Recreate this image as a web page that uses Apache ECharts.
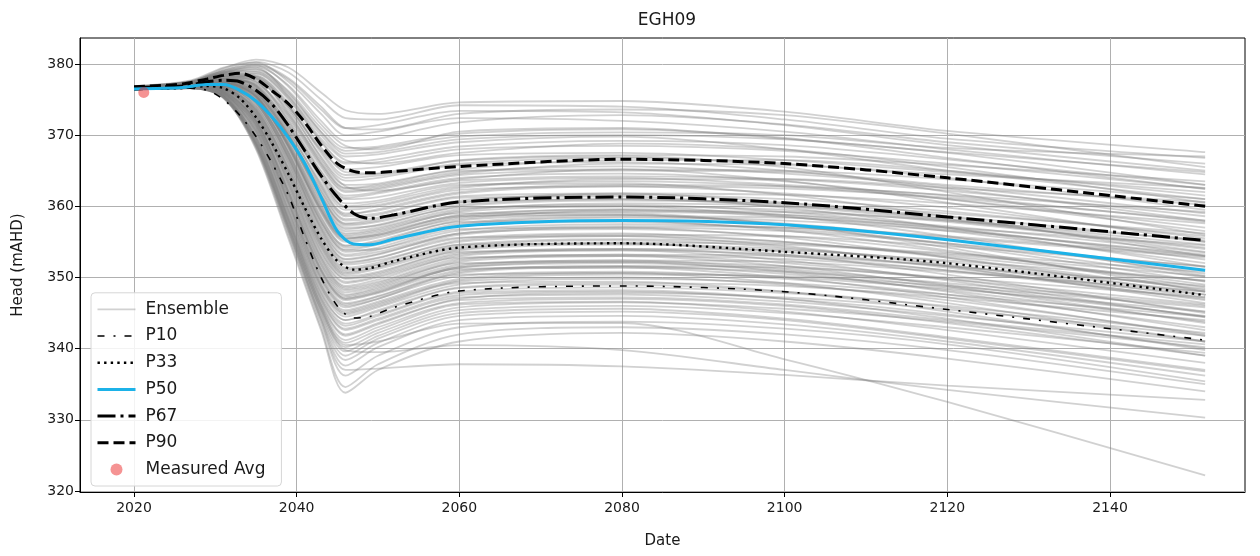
<!DOCTYPE html>
<html>
<head>
<meta charset="utf-8">
<script src="https://cdn.jsdelivr.net/npm/echarts@6/dist/echarts.min.js"></script>
<style>
html,body{margin:0;padding:0;background:#fff;}
#chart{width:1260px;height:556px;}
</style>
</head>
<body>
<div id="chart"></div>
<script>
// ---------------- DATA ----------------
const TITLE = 'EGH09';
const X_TICKS = [2020, 2040, 2060, 2080, 2100, 2120, 2140];
const Y_TICKS = [320, 330, 340, 350, 360, 370, 380];

// years for percentile curves
const P_YEARS = [2020, 2026, 2029, 2031, 2033, 2035, 2037, 2039, 2041, 2043, 2045, 2047, 2049, 2052, 2060, 2080, 2100, 2120, 2151.7];
const P10 = [376.4, 376.6, 376.3, 375.0, 372.8, 369.8, 366.0, 361.5, 355.5, 350.0, 346.0, 344.3, 344.5, 345.8, 348.1, 348.8, 348.0, 345.5, 341.2];
const P33 = [376.5, 376.6, 376.9, 376.6, 375.2, 372.5, 368.8, 364.5, 359.8, 355.5, 352.3, 351.1, 351.3, 352.3, 354.2, 354.8, 353.6, 352.0, 347.5];
const P50 = [376.5, 376.7, 377.1, 377.1, 376.3, 374.8, 372.5, 369.6, 366.0, 361.3, 356.5, 354.7, 354.6, 355.4, 357.2, 358.0, 357.4, 355.3, 351.0];
const P67 = [376.7, 376.9, 377.5, 377.7, 377.5, 376.3, 374.3, 371.3, 367.8, 364.3, 361.3, 359.0, 358.3, 358.8, 360.6, 361.3, 360.5, 358.5, 355.2];
const P90 = [376.8, 377.2, 377.9, 378.4, 378.7, 377.9, 376.2, 374.4, 371.8, 368.6, 366.0, 364.9, 364.7, 364.9, 365.6, 366.6, 366.0, 364.0, 360.0];

// measured average
const MEASURED = [[2021.2, 376.0]];

// years for ensemble members
const E_YEARS = [2020, 2027, 2031, 2035, 2039, 2043, 2046, 2050, 2060, 2080, 2100, 2120, 2151.7];
const ENSEMBLE = [
  [376.8, 377.6, 379.4, 380.6, 379.5, 376.0, 373.5, 373.0, 374.6, 374.8, 373.3, 370.6, 367.6],
  [376.7, 377.5, 379.2, 380.3, 378.8, 375.0, 372.4, 372.2, 374.2, 374.0, 372.2, 369.5, 366.8],
  [376.6, 377.4, 379.0, 380.0, 378.0, 374.0, 371.0, 370.8, 373.0, 373.6, 372.8, 370.2, 365.5],
  [376.9, 377.7, 379.5, 380.2, 377.5, 373.0, 370.0, 370.5, 372.4, 372.0, 370.5, 368.0, 364.5],
  [376.5, 377.3, 378.8, 379.6, 377.0, 372.0, 369.2, 369.5, 371.8, 372.8, 371.5, 369.0, 366.0],
  [376.7, 377.5, 379.1, 379.8, 376.8, 371.5, 368.5, 368.0, 370.5, 371.0, 369.5, 367.5, 363.0],
  [376.6, 377.2, 378.6, 379.3, 376.0, 370.5, 367.8, 368.2, 369.8, 370.4, 370.0, 368.2, 367.0],
  [376.8, 377.6, 379.0, 379.5, 375.5, 370.0, 367.0, 367.3, 369.0, 369.8, 368.0, 365.0, 361.0],
  [376.6, 377.3, 378.5, 378.6, 375.0, 369.0, 366.0, 366.2, 368.0, 368.5, 367.8, 366.0, 362.5],
  [376.7, 377.4, 378.7, 378.9, 375.4, 369.5, 366.5, 366.0, 367.5, 368.8, 368.0, 365.5, 360.5],
  [376.5, 377.1, 378.2, 378.0, 374.0, 368.0, 365.2, 365.5, 367.2, 367.5, 366.5, 364.8, 362.0],
  [376.6, 377.3, 378.3, 378.3, 374.5, 368.3, 364.8, 364.6, 366.5, 367.2, 367.0, 365.8, 363.5],
  [376.8, 377.5, 378.6, 378.4, 374.2, 367.5, 364.0, 364.3, 366.0, 366.8, 366.0, 364.0, 359.5],
  [376.5, 377.0, 378.0, 377.8, 373.5, 367.0, 363.6, 364.0, 365.8, 366.2, 365.0, 362.5, 358.0],
  [376.7, 377.2, 378.4, 378.0, 373.0, 366.5, 363.0, 363.2, 365.2, 366.5, 366.5, 365.0, 361.5],
  [376.6, 377.4, 378.1, 377.5, 372.8, 366.0, 362.5, 362.8, 364.8, 365.6, 364.6, 362.8, 359.0],
  [376.4, 377.0, 377.8, 377.2, 372.3, 365.5, 362.0, 362.4, 364.4, 365.0, 364.8, 363.0, 360.2],
  [376.6, 377.3, 378.2, 377.6, 372.0, 365.0, 361.5, 362.0, 364.0, 364.6, 363.5, 361.0, 356.5],
  [376.8, 377.5, 378.5, 378.2, 373.8, 366.8, 362.8, 362.2, 363.6, 364.2, 363.8, 362.2, 358.6],
  [376.5, 377.1, 377.9, 377.0, 371.5, 364.5, 361.0, 361.3, 363.3, 364.0, 363.0, 361.5, 357.8],
  [376.6, 377.2, 377.8, 376.8, 371.0, 364.0, 360.0, 360.5, 362.8, 363.5, 362.8, 361.0, 357.0],
  [376.5, 377.0, 377.6, 376.5, 370.6, 363.3, 359.5, 360.0, 362.3, 362.8, 361.8, 359.8, 355.5],
  [376.7, 377.3, 377.9, 376.9, 370.8, 363.0, 359.0, 359.4, 361.8, 362.8, 362.5, 361.2, 358.0],
  [376.4, 376.9, 377.4, 376.0, 370.0, 362.5, 358.6, 359.0, 361.4, 361.8, 360.5, 358.2, 353.6],
  [376.6, 377.1, 377.6, 376.3, 370.2, 362.0, 358.0, 358.4, 360.8, 361.6, 361.0, 359.3, 355.8],
  [376.5, 377.0, 377.3, 375.8, 369.5, 361.5, 357.5, 358.0, 360.5, 361.0, 360.0, 358.0, 354.2],
  [376.7, 377.2, 377.5, 376.0, 369.8, 361.0, 357.0, 357.3, 360.0, 360.8, 360.4, 359.0, 356.2],
  [376.5, 377.0, 377.2, 375.5, 369.0, 360.5, 356.5, 357.0, 359.6, 360.2, 359.2, 357.0, 352.5],
  [376.6, 377.1, 377.4, 375.6, 368.8, 360.0, 356.0, 356.6, 359.2, 360.0, 359.5, 357.8, 354.0],
  [376.4, 376.9, 377.0, 375.2, 368.5, 359.5, 355.5, 356.0, 358.8, 359.5, 358.5, 356.5, 352.0],
  [376.6, 377.1, 377.3, 375.4, 368.2, 359.0, 355.0, 355.6, 358.4, 359.2, 358.8, 357.2, 353.5],
  [376.5, 376.9, 376.9, 374.8, 367.8, 358.5, 354.5, 355.0, 358.0, 358.8, 357.6, 355.4, 350.5],
  [376.7, 377.2, 377.4, 375.3, 367.5, 358.0, 354.2, 354.8, 357.6, 358.6, 358.4, 357.0, 354.5],
  [376.5, 377.0, 377.0, 374.6, 367.0, 357.5, 353.6, 354.2, 357.2, 357.8, 356.8, 354.8, 350.0],
  [376.6, 377.0, 377.2, 374.9, 367.2, 357.8, 353.8, 354.0, 356.6, 357.5, 357.0, 355.6, 352.8],
  [376.4, 376.8, 376.8, 374.3, 366.5, 357.0, 353.0, 353.6, 356.2, 356.8, 355.8, 353.6, 349.0],
  [376.6, 377.1, 377.1, 374.6, 366.8, 356.8, 352.6, 353.3, 356.0, 357.0, 356.5, 354.8, 351.5],
  [376.5, 376.9, 376.9, 374.0, 366.0, 356.3, 352.2, 352.8, 355.5, 356.2, 355.0, 352.8, 348.2],
  [376.5, 376.9, 376.7, 373.6, 365.5, 355.8, 351.8, 352.4, 355.0, 355.8, 355.0, 353.0, 349.5],
  [376.6, 377.0, 376.9, 373.8, 365.2, 355.2, 351.2, 351.8, 354.6, 355.4, 354.8, 353.4, 350.8],
  [376.4, 376.8, 376.5, 373.2, 364.8, 354.8, 350.8, 351.5, 354.2, 354.8, 353.6, 351.4, 346.8],
  [376.5, 376.9, 376.6, 373.0, 364.2, 354.2, 350.2, 350.8, 353.8, 354.6, 354.0, 352.2, 348.4],
  [376.6, 377.0, 376.8, 373.3, 364.0, 353.6, 349.8, 350.4, 353.4, 354.0, 353.0, 351.0, 347.0],
  [376.4, 376.8, 376.3, 372.6, 363.5, 353.0, 349.2, 350.0, 353.0, 353.8, 353.2, 351.6, 348.0],
  [376.5, 376.9, 376.5, 372.8, 363.2, 352.6, 348.6, 349.4, 352.6, 353.2, 352.0, 349.8, 345.2],
  [376.6, 377.0, 376.6, 372.4, 362.8, 352.0, 348.2, 349.0, 352.2, 353.0, 352.6, 351.0, 347.6],
  [376.4, 376.7, 376.1, 372.0, 362.2, 351.5, 347.6, 348.6, 351.8, 352.4, 351.2, 349.0, 344.5],
  [376.5, 376.8, 376.4, 372.2, 362.0, 351.0, 347.2, 348.2, 351.4, 352.2, 351.6, 349.8, 346.2],
  [376.6, 376.9, 376.2, 371.8, 361.5, 350.5, 346.8, 347.8, 351.0, 351.6, 350.5, 348.2, 343.8],
  [376.4, 376.7, 376.0, 371.5, 361.0, 350.0, 346.2, 347.3, 350.6, 351.4, 350.8, 349.2, 346.0],
  [376.5, 376.8, 376.3, 371.6, 360.8, 349.6, 345.8, 347.0, 350.2, 350.8, 349.8, 347.6, 343.0],
  [376.6, 376.9, 376.1, 371.2, 360.5, 349.2, 345.4, 346.6, 349.8, 350.6, 350.0, 348.4, 345.2],
  [376.4, 376.7, 375.9, 371.0, 360.2, 348.8, 345.0, 346.2, 349.4, 350.0, 349.0, 346.8, 342.0],
  [376.5, 376.8, 376.0, 370.8, 359.8, 348.4, 344.5, 345.8, 349.0, 349.8, 349.2, 347.6, 344.5],
  [376.4, 376.7, 375.8, 370.5, 359.4, 348.0, 344.0, 345.2, 348.5, 349.0, 348.0, 345.8, 341.0],
  [376.5, 376.8, 375.9, 370.2, 359.0, 347.5, 343.5, 344.8, 348.0, 348.6, 347.8, 346.0, 342.2],
  [376.6, 376.9, 375.7, 369.8, 358.5, 347.0, 342.8, 344.2, 347.5, 348.0, 347.0, 344.8, 340.0],
  [376.4, 376.6, 375.5, 369.5, 358.2, 346.5, 342.0, 343.6, 347.0, 347.8, 347.2, 345.5, 341.8],
  [376.5, 376.7, 375.6, 369.2, 357.8, 346.0, 341.2, 343.0, 346.4, 347.0, 346.0, 343.6, 339.0],
  [376.4, 376.6, 375.4, 369.0, 357.4, 345.4, 340.2, 342.2, 345.8, 346.5, 345.6, 343.8, 340.2],
  [376.5, 376.7, 375.5, 368.8, 357.0, 344.8, 339.0, 341.4, 345.0, 345.6, 344.2, 341.6, 337.0],
  [376.4, 376.6, 375.3, 368.6, 356.6, 344.2, 337.6, 340.2, 344.0, 344.6, 343.4, 341.0, 336.2],
  [376.5, 376.7, 375.4, 368.4, 356.2, 343.6, 336.2, 339.0, 343.0, 343.8, 342.8, 340.6, 335.4],
  [376.4, 376.6, 375.2, 368.2, 355.8, 343.0, 334.6, 337.8, 342.0, 343.0, 342.0, 339.8, 335.0],
  [376.5, 376.6, 375.3, 368.0, 355.4, 342.6, 333.8, 337.0, 341.0, 342.2, 341.0, 338.6, 334.0],
  [376.5, 376.8, 375.6, 369.6, 358.0, 346.0, 340.5, 341.0, 343.5, 343.6, 338.5, 332.5, 322.2],
  [376.4, 376.6, 375.2, 368.5, 356.5, 344.0, 337.0, 337.2, 337.8, 337.5, 336.3, 334.8, 332.8],
  [376.5, 376.7, 375.4, 369.0, 357.2, 345.5, 339.8, 339.5, 340.5, 339.8, 337.0, 334.2, 330.3],
  [376.6, 377.3, 378.4, 378.2, 374.0, 367.8, 364.4, 364.6, 366.4, 367.0, 365.5, 362.0, 356.0],
  [376.5, 377.2, 378.0, 377.4, 372.6, 365.8, 362.2, 362.6, 364.6, 366.0, 365.8, 364.5, 362.6],
  [376.7, 377.4, 378.3, 377.9, 373.2, 366.2, 362.6, 363.0, 365.0, 365.2, 363.6, 360.5, 355.0],
  [376.6, 377.2, 377.9, 377.1, 371.8, 364.8, 361.2, 361.8, 363.8, 365.2, 365.0, 363.8, 361.0],
  [376.5, 377.1, 377.7, 376.6, 371.2, 364.2, 360.4, 360.8, 363.0, 363.2, 361.6, 358.6, 353.0],
  [376.6, 377.2, 377.7, 376.7, 370.4, 362.8, 358.8, 359.6, 362.0, 363.0, 362.8, 361.6, 359.2],
  [376.5, 377.0, 377.5, 376.2, 370.0, 362.2, 358.2, 358.8, 361.2, 361.4, 359.8, 357.0, 351.5],
  [376.7, 377.2, 377.6, 376.4, 369.9, 361.6, 357.6, 358.2, 360.6, 361.8, 361.6, 360.4, 357.6],
  [376.5, 377.0, 377.4, 375.9, 369.3, 360.8, 356.8, 357.4, 359.8, 360.0, 358.6, 355.8, 350.2],
  [376.6, 377.1, 377.3, 375.7, 368.9, 360.2, 356.2, 356.8, 359.4, 360.4, 360.0, 358.6, 355.0],
  [376.4, 376.9, 377.1, 375.3, 368.4, 359.4, 355.4, 356.2, 358.6, 358.8, 357.4, 354.6, 349.4],
  [376.6, 377.1, 377.3, 375.5, 368.4, 359.2, 355.2, 355.8, 358.2, 359.4, 359.2, 358.0, 355.2],
  [376.5, 376.9, 377.0, 374.9, 367.6, 358.4, 354.4, 355.2, 357.8, 358.0, 356.6, 353.8, 348.6],
  [376.6, 377.0, 377.1, 375.0, 367.4, 357.9, 353.9, 354.6, 357.4, 358.4, 358.0, 356.6, 353.2],
  [376.4, 376.8, 376.9, 374.5, 366.9, 357.2, 353.2, 353.9, 356.8, 357.0, 355.6, 352.8, 347.6],
  [376.5, 377.0, 377.0, 374.7, 366.6, 356.6, 352.5, 353.2, 356.2, 357.2, 357.0, 355.8, 353.0],
  [376.6, 377.0, 376.9, 374.2, 366.2, 356.0, 352.0, 352.7, 355.6, 355.8, 354.4, 351.6, 346.4],
  [376.5, 376.9, 376.8, 373.9, 365.8, 355.5, 351.4, 352.1, 355.2, 356.0, 355.8, 354.4, 351.6],
  [376.4, 376.8, 376.6, 373.5, 365.3, 355.0, 351.0, 351.8, 354.6, 354.8, 353.2, 350.4, 345.0],
  [376.6, 377.0, 376.7, 373.4, 364.6, 354.4, 350.4, 351.2, 354.0, 354.9, 354.6, 353.2, 350.2],
  [376.5, 376.9, 376.6, 373.1, 364.4, 353.9, 349.9, 350.6, 353.6, 353.8, 352.4, 349.6, 344.4],
  [376.4, 376.8, 376.4, 372.7, 363.8, 353.4, 349.4, 350.2, 353.2, 354.0, 353.8, 352.4, 349.6],
  [376.6, 376.9, 376.5, 372.9, 363.4, 352.8, 348.8, 349.7, 352.8, 353.0, 351.6, 348.8, 343.6],
  [376.5, 376.8, 376.4, 372.5, 362.9, 352.3, 348.4, 349.2, 352.4, 353.2, 353.0, 351.6, 348.8],
  [376.4, 376.8, 376.2, 372.1, 362.4, 351.8, 347.9, 348.8, 352.0, 352.2, 350.8, 348.0, 342.6],
  [376.6, 376.9, 376.3, 372.0, 362.0, 351.2, 347.4, 348.4, 351.6, 352.4, 352.2, 350.8, 348.0],
  [376.5, 376.8, 376.1, 371.7, 361.6, 350.8, 347.0, 347.9, 351.2, 351.4, 350.0, 347.2, 341.8],
  [376.4, 376.7, 376.0, 371.4, 361.2, 350.2, 346.4, 347.4, 350.8, 351.6, 351.4, 350.0, 347.2],
  [376.5, 376.8, 376.0, 371.3, 360.6, 349.8, 346.0, 347.0, 350.4, 350.6, 349.2, 346.4, 341.0],
  [376.6, 376.8, 375.9, 370.9, 360.3, 349.0, 345.2, 346.4, 349.6, 350.4, 350.2, 348.8, 345.8],
  [376.4, 376.7, 375.8, 370.6, 359.6, 348.6, 344.8, 346.0, 349.2, 349.4, 348.0, 345.2, 339.8],
  [376.5, 376.7, 375.8, 370.4, 359.2, 347.8, 344.0, 345.4, 348.6, 349.2, 348.8, 347.2, 344.0],
  [376.4, 376.6, 375.6, 370.0, 358.7, 347.2, 343.2, 344.6, 347.8, 348.2, 347.0, 344.2, 339.0],
  [376.5, 376.7, 375.6, 369.7, 358.3, 346.8, 342.6, 344.0, 347.2, 347.6, 346.6, 344.6, 341.0],
  [376.4, 376.6, 375.5, 369.4, 357.9, 346.2, 341.8, 343.4, 346.8, 347.2, 346.2, 344.0, 340.6],
  [376.5, 376.7, 375.4, 369.1, 357.5, 345.6, 340.8, 342.6, 346.2, 346.6, 345.2, 342.6, 338.0],
  [376.4, 376.6, 375.3, 368.8, 357.1, 345.0, 339.6, 341.8, 345.4, 346.0, 345.0, 343.0, 339.4],
  [376.5, 376.6, 375.4, 368.6, 356.8, 344.4, 338.4, 340.8, 344.6, 345.2, 344.0, 341.4, 336.8],
  [376.6, 377.4, 378.8, 379.2, 376.2, 371.0, 368.2, 368.4, 370.2, 370.8, 369.6, 366.8, 362.4],
  [376.7, 377.5, 378.9, 379.0, 375.8, 370.4, 367.4, 367.6, 369.4, 370.0, 369.4, 367.6, 364.8],
  [376.6, 377.3, 378.6, 378.7, 375.2, 369.2, 366.2, 366.6, 368.4, 369.2, 368.6, 366.6, 363.0],
  [376.8, 377.4, 378.8, 379.8, 377.8, 373.6, 371.0, 371.4, 373.4, 373.2, 371.4, 368.6, 365.0],
  [376.6, 377.2, 377.8, 376.9, 371.4, 363.8, 359.8, 360.2, 362.6, 363.8, 363.8, 362.6, 360.6],
  [376.5, 377.0, 377.2, 375.4, 368.6, 359.8, 355.8, 356.4, 359.0, 359.0, 357.4, 354.2, 348.0],
  [376.4, 376.8, 376.6, 373.6, 365.0, 354.6, 350.6, 351.4, 354.4, 355.2, 354.2, 351.8, 347.2],
  [376.5, 376.8, 376.2, 372.0, 361.8, 351.0, 347.0, 348.0, 351.4, 352.0, 351.0, 348.6, 344.6],
  [376.6, 377.1, 377.5, 376.0, 369.6, 361.4, 357.3, 357.8, 360.2, 361.0, 360.2, 358.2, 354.6],
  [376.5, 377.0, 377.3, 375.6, 368.2, 359.6, 355.6, 356.0, 358.6, 359.6, 358.8, 356.8, 353.0]
];

// ---------------- CHART ----------------
const FONT = 'DejaVu Sans';
const TXT = '#1a1a1a';
const NOSYM = { color: 'rgba(0,0,0,0)' };
function pairs(xs, ys) { return xs.map((x, i) => [x, ys[i]]); }

const STY = {
  Ensemble: { color: 'rgba(128,128,128,0.36)', width: 1.8 },
  P10: { color: '#000', width: 1.6, type: [7, 9, 2, 9] },
  P33: { color: '#000', width: 2.4, type: [2.4, 4.2] },
  P50: { color: '#1cb2e8', width: 3 },
  P67: { color: '#000', width: 3, type: [18, 5, 3, 5] },
  P90: { color: '#000', width: 3, type: [11, 5] }
};

const series = [];
ENSEMBLE.forEach((vals) => {
  series.push({
    name: 'Ensemble', type: 'line', data: pairs(E_YEARS, vals),
    symbol: 'none', smooth: 0.3, silent: true, z: 1,
    lineStyle: STY.Ensemble, itemStyle: NOSYM
  });
});
[['P10', P10, 5], ['P33', P33, 5], ['P50', P50, 6], ['P67', P67, 5], ['P90', P90, 5]].forEach(([n, vals, z]) => {
  series.push({ name: n, type: 'line', data: pairs(P_YEARS, vals), symbol: 'none', smooth: 0.3, z: z,
    lineStyle: STY[n], itemStyle: NOSYM });
});
series.push({ name: 'Measured Avg', type: 'scatter', data: MEASURED, symbol: 'circle', symbolSize: 11, z: 8,
  itemStyle: { color: 'rgba(235,30,30,0.6)' } });

const legendData = ['Ensemble', 'P10', 'P33', 'P50', 'P67', 'P90'].map(n => ({
  name: n, lineStyle: Object.assign({}, STY[n, n] || STY[n], n === 'Ensemble' ? { color: 'rgba(128,128,128,0.36)', width: 1.8 } : {})
}));
legendData.push({ name: 'Measured Avg' });

const chart = echarts.init(document.getElementById('chart'), null, { renderer: 'canvas' });
chart.setOption({
  backgroundColor: '#fff',
  animation: false,
  textStyle: { fontFamily: FONT },
  title: {
    text: TITLE, left: 662, top: 7, textAlign: 'center',
    textStyle: { fontFamily: FONT, fontSize: 17, fontWeight: 'normal', color: TXT }
  },
  grid: { left: 80, right: 15, top: 38, bottom: 64, show: true, borderColor: '#000', borderWidth: 1, containLabel: false },
  legend: {
    orient: 'vertical', left: 91, bottom: 70,
    data: legendData,
    itemWidth: 38, itemHeight: 12, itemGap: 9.7,
    lineStyle: { width: 'inherit' },
    backgroundColor: 'rgba(255,255,255,0.85)', borderColor: '#d6d6d6', borderWidth: 1, borderRadius: 4,
    padding: [8, 16, 8, 5],
    textStyle: { fontFamily: FONT, fontSize: 17, color: TXT, padding: [0, 0, 0, 5] }
  },
  xAxis: {
    type: 'value', min: 2013.36, max: 2156.6, splitNumber: 7,
    name: 'Date', nameLocation: 'middle', nameGap: 42,
    nameTextStyle: { fontFamily: FONT, fontSize: 15, color: TXT },
    axisLine: { show: true, onZero: false, lineStyle: { color: '#000', width: 1 } },
    axisTick: { show: true, length: 5, lineStyle: { color: '#000' }, customValues: X_TICKS },
    axisLabel: { fontFamily: FONT, fontSize: 14, color: TXT, margin: 9, customValues: X_TICKS, formatter: v => String(v) },
    splitLine: { show: true, lineStyle: { color: '#b0b0b0', width: 1 } }
  },
  yAxis: {
    type: 'value', min: 319.85, max: 383.65, splitNumber: 6,
    name: 'Head (mAHD)', nameLocation: 'middle', nameGap: 54, nameRotate: 90,
    nameTextStyle: { fontFamily: FONT, fontSize: 15, color: TXT },
    axisLine: { show: true, onZero: false, lineStyle: { color: '#000', width: 1 } },
    axisTick: { show: true, length: 5, lineStyle: { color: '#000' }, customValues: Y_TICKS },
    axisLabel: { fontFamily: FONT, fontSize: 14, color: TXT, margin: 6, customValues: Y_TICKS },
    splitLine: { show: true, lineStyle: { color: '#b0b0b0', width: 1 } }
  },
  series: series
});
</script>
</body>
</html>
